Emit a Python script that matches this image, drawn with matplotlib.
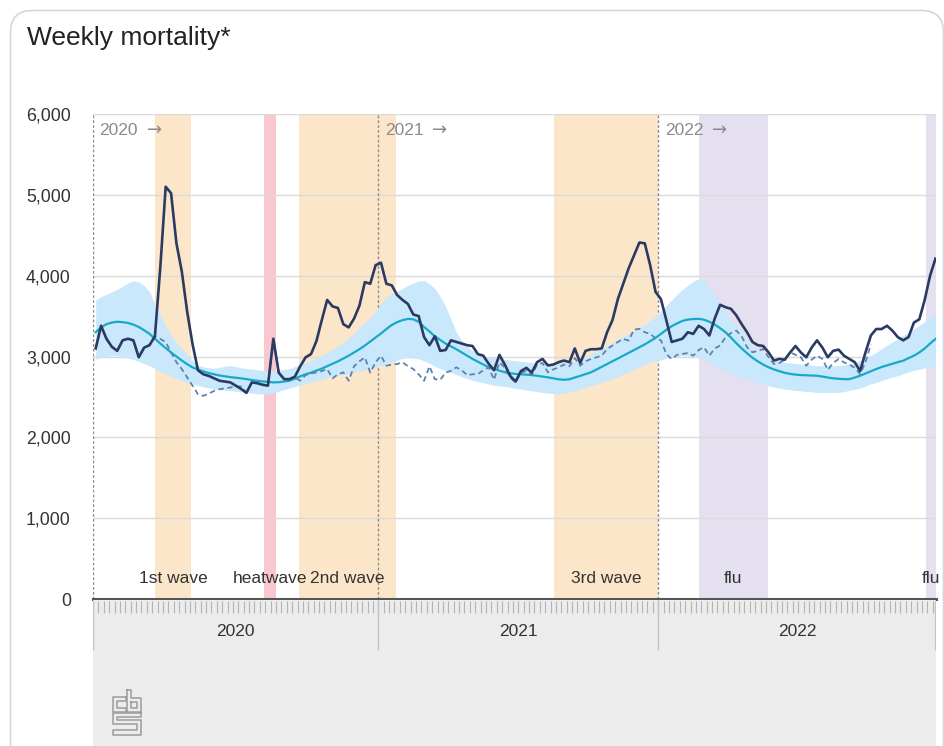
import numpy as np
import matplotlib
matplotlib.use("Agg")
import matplotlib.pyplot as plt
from matplotlib.patches import FancyBboxPatch

plt.rcParams['font.family'] = ['Liberation Sans', 'DejaVu Sans']

# weekly deaths, week 1 of 2020 .. week 52 of 2022
observed = [3100, 3380, 3220, 3120, 3070, 3200, 3220, 3200, 2990, 3110,
            3140, 3250, 4100, 5100, 5020, 4400, 4050, 3550, 3150, 2830,
            2780, 2760, 2730, 2700, 2690, 2680, 2640, 2600, 2550, 2680,
            2670, 2650, 2640, 3220, 2800, 2720, 2720, 2750, 2880, 2990,
            3030, 3190, 3450, 3700, 3620, 3600, 3400, 3360, 3470, 3630,
            3920, 3900, 4130, 4160, 3900, 3880, 3760, 3700, 3650, 3520,
            3500, 3240, 3140, 3250, 3070, 3080, 3200, 3180, 3160, 3140,
            3130, 3030, 3010, 2910, 2830, 3020, 2900, 2760, 2690, 2820,
            2860, 2800, 2930, 2970, 2890, 2900, 2930, 2950, 2930, 3100,
            2920, 3070, 3090, 3090, 3100, 3300, 3450, 3710, 3900, 4090,
            4250, 4410, 4400, 4130, 3800, 3710, 3450, 3180, 3200, 3220,
            3300, 3280, 3380, 3340, 3260, 3470, 3640, 3610, 3590, 3510,
            3400, 3300, 3180, 3140, 3130, 3050, 2950, 2970, 2960, 3050,
            3130, 3050, 2990, 3110, 3200, 3110, 2990, 3070, 3085, 3010,
            2970, 2930, 2820, 3050, 3260, 3340, 3340, 3380, 3320, 3240,
            3200, 3240, 3420, 3460, 3700, 4000, 4210]

# observed without covid deaths (ends earlier)
adjusted = [3100, 3380, 3220, 3120, 3070, 3200, 3220, 3200, 2990, 3110,
            3140, 3240, 3217, 3180, 3050, 2930, 2845, 2740, 2637, 2534,
            2513, 2540, 2575, 2596, 2605, 2617, 2625, 2630, 2550, 2680,
            2670, 2650, 2640, 3220, 2800, 2720, 2720, 2740, 2700, 2770,
            2790, 2804, 2820, 2845, 2730, 2780, 2804, 2700, 2880, 2940,
            2990, 2800, 2928, 3010, 2886, 2900, 2907, 2928, 2880, 2845,
            2780, 2700, 2878, 2720, 2712, 2800, 2824, 2866, 2830, 2770,
            2780, 2783, 2830, 2866, 2712, 2928, 2860, 2740, 2680, 2800,
            2820, 2770, 2900, 2920, 2804, 2840, 2866, 2900, 2880, 2980,
            2886, 2940, 2969, 2990, 3010, 3093, 3135, 3180, 3217, 3197,
            3333, 3342, 3300, 3280, 3226, 3200, 3031, 2969, 3020, 3031,
            3043, 3010, 3080, 3114, 3010, 3100, 3135, 3238, 3290, 3321,
            3250, 3114, 3052, 3070, 3093, 2990, 2907, 2920, 2960, 3052,
            3020, 2990, 2886, 2960, 3010, 2969, 2836, 2920, 2969, 2928,
            2900, 2860, 2783, 2928, 3150]

expected = [3300, 3360, 3400, 3420, 3430, 3425, 3415, 3395, 3365, 3325,
            3280, 3220, 3160, 3105, 3050, 3000, 2950, 2905, 2865, 2840,
            2815, 2795, 2780, 2765, 2755, 2745, 2738, 2730, 2720, 2710,
            2700, 2692, 2686, 2680, 2682, 2690, 2700, 2725, 2755, 2780,
            2800, 2825, 2850, 2880, 2910, 2940, 2975, 3010, 3050, 3090,
            3135, 3185, 3235, 3285, 3340, 3390, 3425, 3450, 3465, 3460,
            3430, 3365, 3310, 3250, 3205, 3160, 3125, 3090, 3050, 3010,
            2970, 2935, 2900, 2866, 2845, 2825, 2805, 2792, 2785, 2780,
            2775, 2770, 2762, 2752, 2742, 2730, 2718, 2712, 2718, 2740,
            2760, 2782, 2804, 2838, 2872, 2905, 2940, 2975, 3010, 3045,
            3080, 3114, 3150, 3190, 3230, 3280, 3330, 3375, 3410, 3440,
            3457, 3463, 3466, 3455, 3430, 3395, 3350, 3300, 3235, 3165,
            3100, 3040, 2985, 2940, 2900, 2866, 2840, 2818, 2798, 2785,
            2776, 2770, 2767, 2764, 2762, 2752, 2740, 2730, 2724, 2720,
            2720, 2740, 2762, 2790, 2818, 2845, 2870, 2890, 2910, 2930,
            2948, 2980, 3010, 3050, 3100, 3160, 3217]

band_high = [3700, 3740, 3770, 3800, 3830, 3870, 3910, 3935, 3920, 3880,
             3800, 3650, 3510, 3380, 3260, 3170, 3100, 3020, 2950, 2890,
             2870, 2860, 2855, 2865, 2880, 2886, 2875, 2860, 2853, 2845,
             2835, 2828, 2824, 2826, 2832, 2840, 2850, 2875, 2900, 2925,
             2950, 2980, 3010, 3050, 3090, 3130, 3176, 3230, 3290, 3360,
             3420, 3480, 3560, 3660, 3730, 3780, 3810, 3840, 3880, 3910,
             3935, 3940, 3900, 3840, 3740, 3620, 3460, 3300, 3200, 3130,
             3070, 3040, 3010, 2995, 2985, 2975, 2965, 2955, 2948, 2940,
             2932, 2928, 2920, 2912, 2907, 2910, 2918, 2924, 2930, 2950,
             2975, 3000, 3030, 3065, 3100, 3135, 3170, 3210, 3250, 3285,
             3320, 3360, 3400, 3440, 3500, 3560, 3630, 3700, 3770, 3830,
             3880, 3930, 3960, 3940, 3860, 3760, 3660, 3550, 3450, 3380,
             3300, 3210, 3135, 3080, 3030, 2990, 2960, 2940, 2928, 2920,
             2912, 2907, 2900, 2892, 2886, 2886, 2886, 2886, 2886, 2895,
             2910, 2925, 2950, 2985, 3015, 3050, 3095, 3140, 3180, 3217,
             3260, 3300, 3345, 3383, 3430, 3490, 3549]

band_low = [2970, 2985, 3000, 3010, 3005, 2995, 2980, 2965, 2940, 2910,
            2886, 2850, 2815, 2783, 2755, 2725, 2700, 2680, 2658, 2640,
            2625, 2610, 2598, 2590, 2582, 2576, 2570, 2563, 2556, 2548,
            2540, 2535, 2536, 2550, 2568, 2590, 2610, 2630, 2645, 2665,
            2685, 2700, 2718, 2735, 2755, 2768, 2780, 2792, 2804, 2820,
            2836, 2852, 2866, 2885, 2905, 2930, 2955, 2975, 2985, 2980,
            2970, 2945, 2915, 2880, 2850, 2824, 2800, 2775, 2750, 2725,
            2705, 2690, 2675, 2660, 2645, 2637, 2628, 2618, 2606, 2596,
            2585, 2575, 2565, 2555, 2548, 2540, 2534, 2545, 2560, 2575,
            2597, 2620, 2640, 2658, 2680, 2702, 2725, 2750, 2780, 2810,
            2840, 2870, 2898, 2925, 2945, 2960, 2975, 2990, 3005, 3010,
            3005, 2995, 2980, 2960, 2925, 2880, 2845, 2815, 2790, 2762,
            2740, 2720, 2700, 2680, 2658, 2637, 2622, 2608, 2596, 2588,
            2580, 2575, 2568, 2562, 2555, 2555, 2555, 2555, 2555, 2566,
            2580, 2592, 2610, 2635, 2660, 2680, 2702, 2725, 2745, 2762,
            2785, 2808, 2830, 2845, 2860, 2875, 2886]

years = ["2020", "2021", "2022"]
year_start = [0, 53, 105]
year_end = [53, 105, 156.6]

period_labels = ["1st wave", "heatwave", "2nd wave", "3rd wave", "flu", "flu"]
period_start = [11.5, 31.8, 38.3, 85.7, 112.5, 154.8]
period_end = [18.2, 34.0, 56.3, 105.0, 125.3, 156.6]
period_kind = ["covid", "heat", "covid", "covid", "flu", "flu"]

y_ticks = [0, 1000, 2000, 3000, 4000, 5000, 6000]

W, H = 944, 746
fig = plt.figure(figsize=(W / 100, H / 100), dpi=100)
fig.patch.set_facecolor("white")

# card outline
card = FancyBboxPatch((10.5, -40), 933, 775.5, boxstyle="round,pad=0,rounding_size=22",
                      transform=None, facecolor="white", edgecolor="#cfd8df", lw=1.2,
                      zorder=-5)
fig.patches.append(card)

fig.text(27 / W, 1 - 38 / H, "Weekly mortality*", fontsize=19, color="#222222",
         va="center", ha="left")

x0, x1, ytop, ybot = 93, 936, 114, 599
ax = fig.add_axes([x0 / W, 1 - ybot / H, (x1 - x0) / W, (ybot - ytop) / H])
ax.set_facecolor("none")
ax.set_xlim(0, 156.6)
ax.set_ylim(0, 6000)

kind_colors = {"covid": "#fce6c9", "heat": "#f9c8cf", "flu": "#e5e0ef"}
for lab, s, e, k in zip(period_labels, period_start, period_end, period_kind):
    ax.axvspan(s, e, color=kind_colors[k], lw=0, zorder=0)
    ax.text((s + e) / 2, 0.043, lab, transform=ax.get_xaxis_transform(),
            ha="center", va="center", fontsize=12.5, color="#333333", zorder=6)

weeks = np.arange(len(observed)) + 0.5
ax.fill_between(weeks, band_low, band_high, color="#c9e8fb", lw=0, zorder=2)
ax.plot(weeks, expected, color="#17a9c9", lw=1.6, zorder=3)
ax.plot(np.arange(len(adjusted)) + 0.5, adjusted, color="#5e82aa", lw=1.3,
        ls=(0, (3, 2)), zorder=4)
ax.plot(weeks, observed, color="#2b3a63", lw=1.9, zorder=5)

for ys, lab in zip(year_start, years):
    ax.axvline(ys, color="#8c8c8c", lw=1, ls=(0, (2, 1.5)), zorder=1)
    ax.text(ys + 1.2, 0.967, lab, transform=ax.get_xaxis_transform(),
            ha="left", va="center", fontsize=12.5, color="#8a8a8a", zorder=6)
    ax.annotate("\u2192", xy=(ys + 1.2, 0.967), xycoords=ax.get_xaxis_transform(),
                xytext=(34, 0), textcoords="offset points", ha="left", va="center",
                fontsize=13, color="#8a8a8a", family="DejaVu Sans", zorder=6)

ax.set_yticks(y_ticks)
ax.set_yticklabels([f"{v:,}" for v in y_ticks], fontsize=12.8, color="#333333")
ax.tick_params(axis="y", length=0, pad=16)
ax.set_xticks([])
ax.grid(axis="y", color="#dadada", lw=1, zorder=0)
ax.set_axisbelow(True)
for sp in ["top", "left", "right"]:
    ax.spines[sp].set_visible(False)
ax.spines["bottom"].set_color("#555555")
ax.spines["bottom"].set_linewidth(2.2)
ax.spines["bottom"].set_zorder(7)

# grey time axis band
axb = fig.add_axes([x0 / W, 0, (x1 - x0) / W, (H - 600) / H])
axb.set_facecolor("#ececec")
axb.set_xlim(0, 156.6)
axb.set_ylim(146, 0)
axb.vlines(np.arange(0, 157), 1, 13, color="#b4b4b4", lw=0.8)
for s, e, lab in zip(year_start, year_end, years):
    axb.text((s + e) / 2, 32, lab, ha="center", va="center", fontsize=12.5, color="#333333")
axb.vlines(year_start + [156.4], 0, 50, color="#c4c4c4", lw=1)
for sp in axb.spines.values():
    sp.set_visible(False)
axb.set_xticks([])
axb.set_yticks([])

# cbs logo
axl = fig.add_axes([112 / W, 1 - 736 / H, 30 / W, 47 / H])
axl.set_xlim(-1, 30)
axl.set_ylim(47, -1)
axl.axis("off")
logo = "#9c9c9c"
axl.plot([13, 0, 0, 13, 13, 4, 4, 13, 13], [7, 7, 22, 22, 18, 18, 11, 11, 7], color=logo, lw=1.1)
axl.plot([15, 15, 29, 29, 19, 19, 15], [0, 22, 22, 8, 8, 0, 0], color=logo, lw=1.1)
axl.plot([19, 25, 25, 19, 19], [12, 12, 18, 18, 12], color=logo, lw=1.1)
axl.plot([29, 0, 0, 25, 25, 0, 0, 29, 29, 4, 4, 29, 29],
         [24, 24, 35, 35, 41, 41, 46, 46, 31, 31, 28, 28, 24], color=logo, lw=1.1)

fig.savefig("out.png", dpi=100)
